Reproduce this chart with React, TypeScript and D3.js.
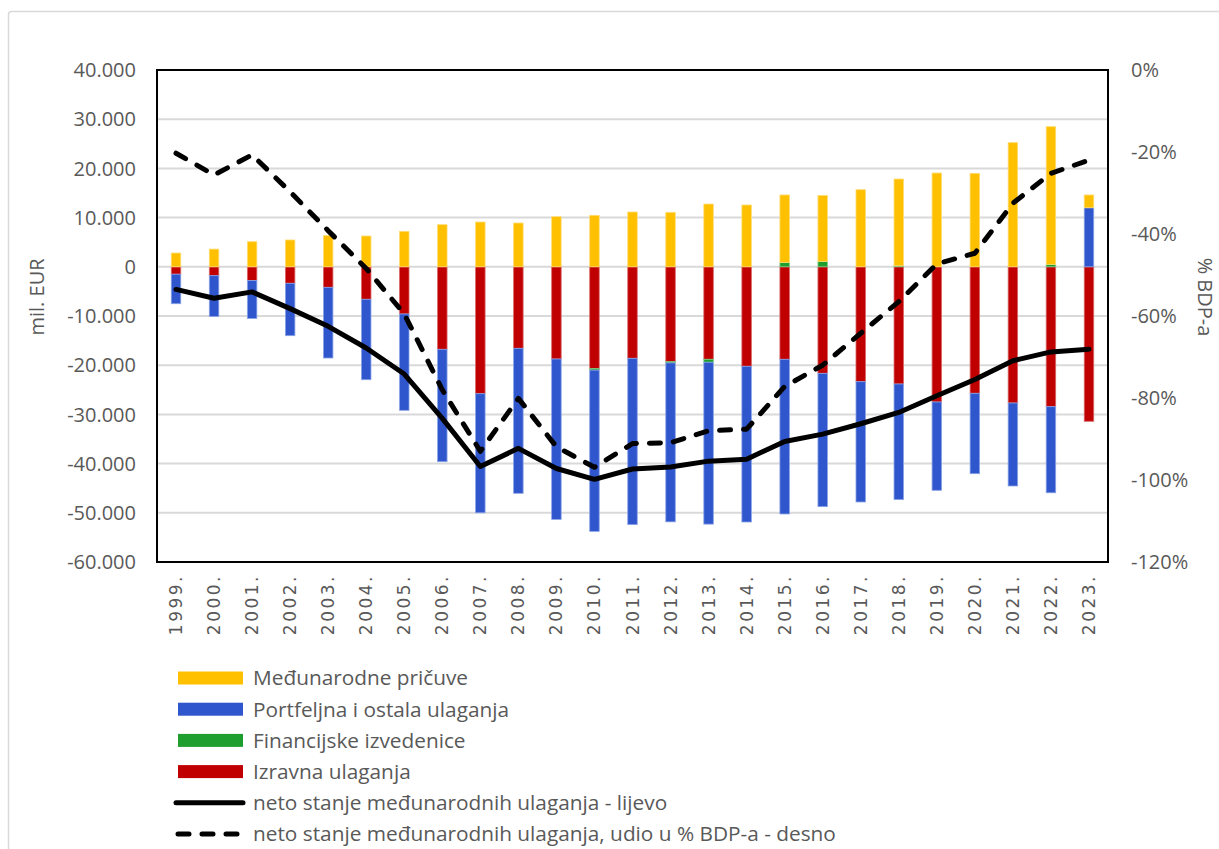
import React from 'react';
import * as d3 from 'd3';

const years = ['1999.', '2000.', '2001.', '2002.', '2003.', '2004.', '2005.', '2006.', '2007.', '2008.', '2009.', '2010.', '2011.', '2012.', '2013.', '2014.', '2015.', '2016.', '2017.', '2018.', '2019.', '2020.', '2021.', '2022.', '2023.'];

// Izravna ulaganja (red)
const izravna = [-1500, -1800, -2800, -3350, -4170, -6600, -9590, -16770, -25800, -16570, -18740, -20700, -18600, -19290, -18800, -20220, -18800, -21650, -23350, -23820, -27480, -25710, -27680, -28430, -31400];
// Financijske izvedenice (green)
const izvedenice = [0, 0, 0, 0, 0, 0, 0, 0, 0, 0, 0, -300, 0, -250, -600, 0, 900, 1100, 0, 200, 0, 0, 0, 500, 0];
// Portfeljna i ostala ulaganja (blue)
const portfeljna = [-6000, -8300, -7700, -10650, -14370, -16350, -19580, -22840, -24200, -29470, -32600, -32770, -33800, -32300, -32900, -31650, -31440, -27100, -24450, -23500, -17950, -16340, -16870, -17500, 12000];
// Međunarodne pričuve (yellow)
const pricuve = [2800, 3600, 5100, 5450, 6330, 6260, 7210, 8560, 9100, 8900, 10180, 10460, 11140, 11070, 12760, 12560, 13700, 13400, 15670, 17640, 19060, 19000, 25230, 27980, 2600];

// neto stanje (left axis, mil. EUR)
const neto = [-4600, -6400, -5100, -8500, -12100, -16500, -21800, -30800, -40600, -36900, -41000, -43200, -41100, -40700, -39500, -39100, -35500, -34000, -31900, -29600, -26200, -22900, -19100, -17300, -16750];
// neto stanje u % BDP-a (right axis)
const netoPct = [-20.3, -25.6, -20.7, -29.7, -39.2, -48.4, -59.5, -78.0, -93.0, -80.1, -91.9, -96.9, -91.1, -90.9, -88.0, -87.6, -77.2, -72.0, -64.2, -56.5, -47.3, -44.7, -32.5, -25.2, -22.0];

const leftTicks = [40000, 30000, 20000, 10000, 0, -10000, -20000, -30000, -40000, -50000, -60000];
const rightTicks = [0, -20, -40, -60, -80, -100, -120];

const seriesKeys = ['izravna', 'izvedenice', 'portfeljna', 'pricuve'];
const seriesColors: Record<string, string> = {
  izravna: '#C00000',
  izvedenice: '#1E9E2E',
  portfeljna: '#2F56CC',
  pricuve: '#FFC000',
};
const seriesStroke: Record<string, string> = {
  izravna: '#d9686a',
  izvedenice: '#7fcf87',
  portfeljna: '#8aa3e6',
  pricuve: '#ffdc73',
};

const legendItems = [
  { label: 'Međunarodne pričuve', type: 'rect', color: '#FFC000' },
  { label: 'Portfeljna i ostala ulaganja', type: 'rect', color: '#2F56CC' },
  { label: 'Financijske izvedenice', type: 'rect', color: '#1E9E2E' },
  { label: 'Izravna ulaganja', type: 'rect', color: '#C00000' },
  { label: 'neto stanje međunarodnih ulaganja - lijevo', type: 'line' },
  { label: 'neto stanje međunarodnih ulaganja, udio u % BDP-a - desno', type: 'dash' },
];

const fmt = (v: number) => {
  if (v === 0) return '0';
  const s = d3.format(',')(v).replace(/,/g, '.');
  return s.replace('−', '-');
};

export default function App() {
  const W = 1219, H = 849;
  const left = 157, right = 1108, top = 70, bottom = 562;
  const font = "'Open Sans', 'Liberation Sans', sans-serif";
  const gray = '#595959';

  const x = d3.scaleBand<string>().domain(years).range([left, right]).paddingInner(0).paddingOuter(0);
  const yL = d3.scaleLinear().domain([-60000, 40000]).range([bottom, top]);
  const yR = d3.scaleLinear().domain([-120, 0]).range([bottom, top]);

  const table = years.map((yr, i) => ({
    year: yr,
    izravna: izravna[i],
    izvedenice: izvedenice[i],
    portfeljna: portfeljna[i],
    pricuve: pricuve[i],
  }));
  const stacked = d3.stack<any>().keys(seriesKeys).offset(d3.stackOffsetDiverging)(table);

  const barW = 9.5;
  const cx = (yr: string) => (x(yr) as number) + x.bandwidth() / 2;

  const netoLine = d3.line<number>().x((_, i) => cx(years[i])).y((d) => yL(d)).curve(d3.curveLinear)(neto) || '';
  const pctLine = d3.line<number>().x((_, i) => cx(years[i])).y((d) => yR(d)).curve(d3.curveLinear)(netoPct) || '';

  const legX = 178, legTextX = 253, legY0 = 678, legDY = 31.2;

  return (
    <svg width={W} height={H} style={{ position: 'absolute', left: 0, top: 0, background: '#fff' }}>
      <rect x={8.5} y={11.5} width={1240} height={900} rx={3} fill="#fff" stroke="#d9d9d9" strokeWidth={1.5} />

      {/* gridlines */}
      {leftTicks.map((t) => (
        <line key={'g' + t} x1={left} x2={right} y1={yL(t)} y2={yL(t)} stroke="#d9d9d9" strokeWidth={2} />
      ))}

      {/* bars */}
      {stacked.map((s) => (
        <g key={s.key}>
          {s.map((d, i) => {
            const h = Math.abs(yL(d[0]) - yL(d[1]));
            if (h < 0.01) return null;
            return (
              <rect
                key={i}
                x={cx(years[i]) - barW / 2}
                y={Math.min(yL(d[0]), yL(d[1]))}
                width={barW}
                height={h}
                fill={seriesColors[s.key]}
                stroke={seriesStroke[s.key]}
                strokeWidth={0.8}
              />
            );
          })}
        </g>
      ))}

      {/* lines */}
      <path d={netoLine} fill="none" stroke="#000" strokeWidth={5} strokeLinejoin="round" strokeLinecap="round" />
      <path d={pctLine} fill="none" stroke="#000" strokeWidth={5} strokeLinejoin="round" strokeLinecap="round" strokeDasharray="11 13" />

      {/* plot border */}
      <rect x={left} y={top} width={right - left} height={bottom - top} fill="none" stroke="#000" strokeWidth={2} />

      {/* left axis labels */}
      {leftTicks.map((t) => (
        <text key={'l' + t} x={136} y={yL(t)} dy="0.36em" textAnchor="end" fontFamily={font} fontSize={20} fill={gray}>
          {fmt(t)}
        </text>
      ))}
      {/* right axis labels */}
      {rightTicks.map((t) => (
        <text key={'r' + t} x={1131} y={yR(t)} dy="0.36em" textAnchor="start" fontFamily={font} fontSize={20} fill={gray}>
          {t + '%'}
        </text>
      ))}

      {/* axis titles */}
      <text transform={`translate(44,297) rotate(-90)`} textAnchor="middle" fontFamily={font} fontSize={20} fill={gray}>
        mil. EUR
      </text>
      <text transform={`translate(1198,297) rotate(90)`} textAnchor="middle" fontFamily={font} fontSize={20} fill={gray}>
        % BDP-a
      </text>

      {/* x labels */}
      {years.map((yr) => (
        <text
          key={'x' + yr}
          transform={`translate(${cx(yr) + 6},574) rotate(-90)`}
          textAnchor="end"
          fontFamily="'DejaVu Sans', sans-serif"
          fontSize={17}
          letterSpacing={2.5}
          fill={gray}
        >
          {yr}
        </text>
      ))}

      {/* legend */}
      {legendItems.map((it, i) => {
        const y = legY0 + i * legDY;
        return (
          <g key={'leg' + i}>
            {it.type === 'rect' && (
              <rect x={legX} y={y - 6.5} width={65} height={13} fill={it.color} />
            )}
            {it.type === 'line' && (
              <line x1={legX - 2} x2={legX + 65} y1={y} y2={y} stroke="#000" strokeWidth={5} strokeLinecap="round" />
            )}
            {it.type === 'dash' && (
              <line x1={legX} x2={legX + 65} y1={y} y2={y} stroke="#000" strokeWidth={5} strokeLinecap="round" strokeDasharray="11 13" />
            )}
            <text x={legTextX} y={y} dy="0.36em" fontFamily={font} fontSize={20.8} fill={gray}>
              {it.label}
            </text>
          </g>
        );
      })}
    </svg>
  );
}
